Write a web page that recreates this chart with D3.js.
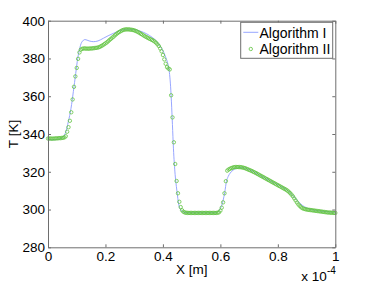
<!DOCTYPE html>
<html>
<head>
<meta charset="utf-8">
<script src="https://cdn.jsdelivr.net/npm/d3@7"></script>
<style>
  html, body { margin: 0; padding: 0; background: #fff; }
  svg { display: block; }
  text { font-family: "Liberation Sans", Arial, Helvetica, sans-serif; }
</style>
</head>
<body>
<svg id="chart" width="371" height="284"></svg>
<script>
// ---- data (x in units of 1e-4 m) ----
const xTicks = [0, 0.2, 0.4, 0.6, 0.8, 1];
const xTickLabels = ["0", "0.2", "0.4", "0.6", "0.8", "1"];
const yTicks = [280, 300, 320, 340, 360, 380, 400];
const yTickLabels = ["280", "300", "320", "340", "360", "380", "400"];
const seriesNames = ["Algorithm I", "Algorithm II"];

// Algorithm I (line)
const algIx = [0, 0.0244, 0.0418, 0.0533, 0.0617, 0.0707, 0.0801, 0.0882, 0.0965, 0.1035,
  0.1091, 0.1174, 0.1289, 0.1429, 0.1578, 0.1742, 0.1927, 0.2091, 0.2275, 0.2509,
  0.2753, 0.2962, 0.3206, 0.3439, 0.3624, 0.3787, 0.3902, 0.4017, 0.4094, 0.4157,
  0.4199, 0.4233, 0.4268, 0.4296, 0.4331, 0.4366, 0.4425, 0.4484, 0.4554, 0.4634,
  0.4739, 0.4948, 0.5819, 0.5889, 0.5958, 0.6028, 0.6098, 0.615, 0.6213, 0.6272,
  0.6341, 0.6446, 0.6551, 0.669, 0.6864, 0.7213, 0.7561, 0.7909, 0.8199, 0.8362,
  0.8502, 0.8641, 0.878, 0.892, 0.9129, 0.9477, 0.9756, 1.0];
const algIT = [336.9, 337.0, 337.5, 338.5, 341.0, 346.5, 353.6, 362.4, 372.1, 380.1,
  384.5, 388.6, 390.0, 389.3, 388.9, 389.3, 390.7, 392.0, 393.3, 394.8,
  395.5, 395.4, 394.5, 393.0, 391.2, 389.0, 386.6, 383.6, 380.8, 378.0,
  375.5, 371.5, 365.0, 357.0, 345.0, 332.5, 318.5, 310.3, 302.4, 299.6,
  298.5, 298.3, 298.3, 298.6, 299.5, 301.5, 305.0, 309.0, 315.0, 317.5,
  319.3, 320.9, 321.8, 322.2, 321.9, 319.6, 316.6, 313.9, 311.5, 309.8,
  307.8, 305.5, 303.2, 301.5, 300.2, 299.2, 298.8, 298.6];

// Algorithm II (markers), sampled on a uniform grid of 211 points from 0 to 1
const algIIT = [
  337.6,337.6,337.6,337.5,337.6,337.6,337.7,337.7,337.8,337.8,
  337.9,338.0,338.2,338.8,341.2,343.6,347.0,351.5,358.3,365.0,
  370.5,375.0,379.8,383.2,384.7,385.1,385.3,385.3,385.2,385.2,
  385.2,385.3,385.3,385.4,385.5,385.6,385.7,385.9,386.2,386.6,
  387.0,387.5,388.0,388.5,389.1,389.8,390.4,391.0,391.6,392.3,
  392.9,393.5,394.0,394.4,394.8,395.1,395.3,395.4,395.4,395.4,
  395.3,395.2,395.1,394.9,394.6,394.3,393.9,393.5,393.0,392.6,
  392.1,391.7,391.3,390.9,390.5,390.2,389.8,389.4,388.9,388.3,
  387.5,386.6,385.3,383.8,381.8,379.5,377.2,375.4,374.7,374.2,
  360.5,348.8,335.6,324.1,315.1,308.6,304.1,301.3,299.6,298.8,
  298.4,298.3,298.2,298.2,298.2,298.2,298.2,298.2,298.2,298.2,
  298.2,298.2,298.2,298.2,298.2,298.2,298.2,298.2,298.2,298.2,
  298.2,298.2,298.2,298.2,298.3,298.5,299.4,301.0,303.8,308.6,
  315.0,320.6,321.2,321.6,321.9,322.2,322.4,322.5,322.5,322.5,
  322.5,322.4,322.3,322.1,321.9,321.6,321.3,321.0,320.7,320.4,
  320.0,319.7,319.3,318.9,318.5,318.1,317.7,317.3,316.9,316.5,
  316.1,315.7,315.3,314.9,314.5,314.1,313.7,313.3,312.9,312.5,
  312.1,311.7,311.3,310.9,310.5,310.0,309.4,308.7,307.9,307.0,
  305.9,304.8,303.7,302.7,301.9,301.2,300.7,300.4,300.2,300.0,
  299.9,299.8,299.7,299.6,299.5,299.4,299.3,299.2,299.1,299.0,
  298.9,298.8,298.7,298.6,298.5,298.4,298.4,298.3,298.3,298.2,298.2];
const algIIx = algIIT.map((d, i) => i / (algIIT.length - 1));

// ---- layout ----
const svg = d3.select("#chart");
const L = 48, R = 335.3, T = 20.7, B = 247.3;
const x = d3.scaleLinear().domain([0, 1]).range([L, R]);
const y = d3.scaleLinear().domain([280, 400]).range([B, T]);
const axisColor = "#6e6e6e";
const blue = "#8c9cff";
const green = "#62c443";
const fs = 13.5;

// data
const lineData = algIx.map((d, i) => [d, algIT[i]]);
svg.append("path")
  .datum(lineData)
  .attr("fill", "none")
  .attr("stroke", blue)
  .attr("stroke-width", 0.9)
  .attr("d", d3.line().x(d => x(d[0])).y(d => y(d[1])).curve(d3.curveMonotoneX));

svg.append("g").selectAll("circle")
  .data(algIIx.map((d, i) => [d, algIIT[i]]))
  .join("circle")
  .attr("cx", d => x(d[0]))
  .attr("cy", d => y(d[1]))
  .attr("r", 1.7)
  .attr("fill", "none")
  .attr("stroke", green)
  .attr("stroke-width", 0.8);

// axes
const tickLen = 3;
const gB = svg.append("g").attr("transform", `translate(0,${B})`)
  .call(d3.axisBottom(x).tickValues(xTicks).tickFormat((d, i) => xTickLabels[i]).tickSizeInner(-tickLen).tickSizeOuter(0).tickPadding(4));
const gT = svg.append("g").attr("transform", `translate(0,${T})`)
  .call(d3.axisTop(x).tickValues(xTicks).tickFormat("").tickSizeInner(-tickLen).tickSizeOuter(0));
const gL = svg.append("g").attr("transform", `translate(${L},0)`)
  .call(d3.axisLeft(y).tickValues(yTicks).tickFormat((d, i) => yTickLabels[i]).tickSizeInner(-tickLen).tickSizeOuter(0).tickPadding(3));
const gR = svg.append("g").attr("transform", `translate(${R},0)`)
  .call(d3.axisRight(y).tickValues(yTicks).tickFormat("").tickSizeInner(-tickLen).tickSizeOuter(0));
[gB, gT, gL, gR].forEach(g => {
  g.select(".domain").attr("stroke", axisColor).attr("stroke-width", 1);
  g.selectAll(".tick line").attr("stroke", axisColor);
  g.selectAll(".tick text").attr("fill", "#000").attr("font-size", fs)
    .attr("font-family", '"Liberation Sans", Arial, sans-serif');
});

// axis labels
svg.append("text").attr("x", (L + R) / 2).attr("y", 273.5).attr("text-anchor", "middle")
  .attr("font-size", fs).text("X [m]");
svg.append("text").attr("transform", `translate(18,${(T + B) / 2}) rotate(-90)`)
  .attr("text-anchor", "middle").attr("font-size", fs).text("T [K]");
const ex = svg.append("text").attr("x", R + 0.5).attr("y", 280.5).attr("text-anchor", "end").attr("font-size", fs);
ex.append("tspan").text("x 10");
ex.append("tspan").attr("dy", -7).attr("font-size", 10).text("-4");

// legend
const lg = svg.append("g");
lg.append("rect").attr("x", 240.7).attr("y", 22.3).attr("width", 92).attr("height", 36)
  .attr("fill", "#fff").attr("stroke", axisColor).attr("stroke-width", 1);
lg.append("line").attr("x1", 243.3).attr("x2", 258.3).attr("y1", 32.3).attr("y2", 32.3)
  .attr("stroke", blue).attr("stroke-width", 0.9);
lg.append("circle").attr("cx", 250.8).attr("cy", 49).attr("r", 1.7)
  .attr("fill", "none").attr("stroke", green).attr("stroke-width", 0.8);
lg.append("text").attr("x", 259.5).attr("y", 37.5).attr("font-size", 14).text(seriesNames[0]);
lg.append("text").attr("x", 259.5).attr("y", 54.3).attr("font-size", 14).text(seriesNames[1]);
</script>
</body>
</html>
